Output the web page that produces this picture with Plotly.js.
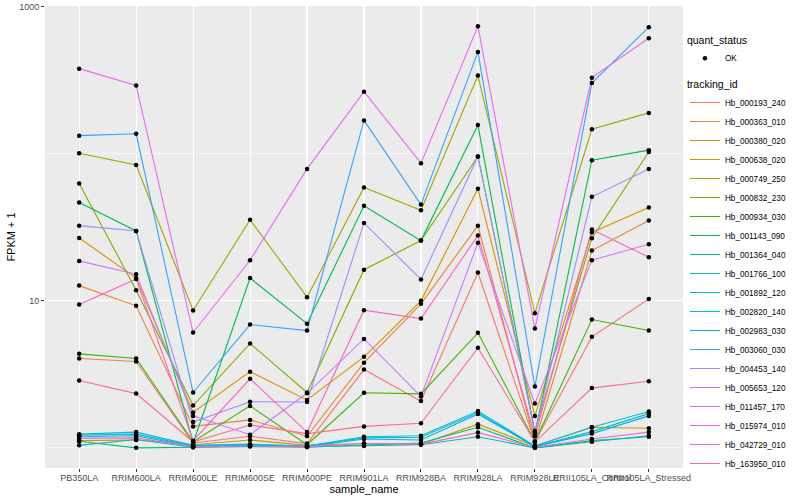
<!DOCTYPE html>
<html>
<head>
<meta charset="utf-8">
<script src="https://cdn.plot.ly/plotly-3.0.1.min.js"></script>
<style>html,body{margin:0;padding:0;background:#fff;}#chart{width:800px;height:500px;}</style>
</head>
<body>
<div id="chart"></div>
<script>
// categories (x)
const categories = ["PB350LA","RRIM600LA","RRIM600LE","RRIM600SE","RRIM600PE","RRIM901LA","RRIM928BA","RRIM928LA","RRIM928LE","RRII105LA_Control","RRII105LA_Stressed"];

// series values: FPKM + 1 per sample
const hb_000193_240 = [4.05, 3.87, 1.08, 1.2, 1.07, 3.41, 2.08, 15.6, 1.1, 5.69, 10.3];
const hb_000363_010 = [12.7, 9.25, 1.4, 1.55, 1.2, 3.80, 9.55, 32.5, 1.1, 22.0, 35.2];
const hb_000380_020 = [26.8, 14.3, 1.74, 3.30, 2.12, 4.16, 10.0, 57.8, 1.65, 29.2, 43.1];
const hb_000638_020 = [1.12, 1.13, 1.05, 1.13, 1.04, 1.07, 1.06, 1.45, 1.03, 1.38, 1.36];
const hb_000749_250 = [101, 84, 8.59, 35.6, 10.6, 59, 41.4, 341, 8.25, 147, 190];
const hb_000832_230 = [62.8, 11.8, 1.94, 5.13, 2.38, 16.3, 25.7, 96, 1.3, 26.7, 103];
const hb_000934_030 = [4.36, 4.06, 1.1, 1.93, 1.05, 2.37, 2.33, 6.06, 1.1, 7.46, 6.28];
const hb_001143_090 = [46.7, 29.9, 1.08, 14.3, 7.0, 44.3, 25.7, 157, 1.25, 90.6, 106];
const hb_001364_040 = [1.11, 1.0, 1.01, 1.02, 1.01, 1.05, 1.08, 1.38, 1.0, 1.10, 1.21];
const hb_001766_100 = [1.04, 1.14, 1.01, 1.03, 1.02, 1.03, 1.05, 1.19, 1.0, 1.12, 1.19];
const hb_001892_120 = [1.22, 1.24, 1.03, 1.05, 1.03, 1.17, 1.18, 1.74, 1.02, 1.29, 1.71];
const hb_002820_140 = [1.24, 1.28, 1.04, 1.06, 1.03, 1.19, 1.21, 1.78, 1.03, 1.38, 1.77];
const hb_002983_030 = [1.19, 1.21, 1.02, 1.04, 1.02, 1.15, 1.13, 1.70, 1.02, 1.25, 1.65];
const hb_003060_030 = [133, 137, 2.38, 6.9, 6.28, 169, 45.2, 494, 2.61, 303, 728];
const hb_004453_140 = [32.5, 29.9, 1.50, 2.06, 2.05, 33.9, 14.0, 96, 1.28, 51, 79];
const hb_005653_120 = [18.7, 15.2, 1.65, 1.23, 2.35, 5.51, 2.24, 24.9, 2.0, 18.9, 24.3];
const hb_011457_170 = [380, 292, 6.09, 18.9, 79, 265, 86.5, 739, 6.48, 330, 612];
const hb_015974_010 = [1.16, 1.17, 1.02, 1.03, 1.02, 1.07, 1.06, 1.27, 1.01, 1.15, 1.28];
const hb_042729_010 = [9.44, 14.1, 1.12, 2.95, 1.28, 8.64, 7.58, 27.8, 1.2, 30.6, 19.8];
const hb_163950_010 = [2.87, 2.34, 1.1, 1.43, 1.25, 1.40, 1.47, 4.79, 1.1, 2.55, 2.84];

// tracking ids (legend labels)
const trackingIds = ["Hb_000193_240","Hb_000363_010","Hb_000380_020","Hb_000638_020","Hb_000749_250","Hb_000832_230","Hb_000934_030","Hb_001143_090","Hb_001364_040","Hb_001766_100","Hb_001892_120","Hb_002820_140","Hb_002983_030","Hb_003060_030","Hb_004453_140","Hb_005653_120","Hb_011457_170","Hb_015974_010","Hb_042729_010","Hb_163950_010"];
const seriesValues = [hb_000193_240,hb_000363_010,hb_000380_020,hb_000638_020,hb_000749_250,hb_000832_230,hb_000934_030,hb_001143_090,hb_001364_040,hb_001766_100,hb_001892_120,hb_002820_140,hb_002983_030,hb_003060_030,hb_004453_140,hb_005653_120,hb_011457_170,hb_015974_010,hb_042729_010,hb_163950_010];

// y tick labels
const yTickVals = [10, 1000];
const yTickText = ["10", "1000"];
const yMinorVals = [1, 100];

// ggplot2 hue palette (20)
const palette = ["#F8766D","#EA8331","#D89000","#C09B00","#A3A500","#7CAE00","#39B600","#00BB4E","#00BF7D","#00C1A3","#00BFC4","#00BAE0","#00B0F6","#35A2FF","#9590FF","#C77CFF","#E76BF3","#FA62DB","#FF62BC","#FF6C91"];

const FONT = "Liberation Sans, Arial, Helvetica, sans-serif";
const traces = [];
trackingIds.forEach((id, i) => {
  traces.push({
    type: "scatter", mode: "lines", x: categories, y: seriesValues[i],
    name: id, legend: "legend2",
    line: {color: palette[i], width: 1.1},
    hoverinfo: "x+y+name"
  });
});
// points (quant_status = OK)
const px = [], py = [];
seriesValues.forEach(vals => vals.forEach((v, j) => { px.push(categories[j]); py.push(v); }));
traces.push({
  type: "scatter", mode: "markers", x: px, y: py, name: "OK", legend: "legend",
  marker: {color: "#000000", size: 4.5}
});

const layout = {
  width: 800, height: 500,
  margin: {l: 45, r: 117, t: 6, b: 32, pad: 0},
  paper_bgcolor: "#FFFFFF", plot_bgcolor: "#EBEBEB",
  font: {family: FONT, color: "#000000"},
  showlegend: true,
  xaxis: {
    type: "category", categoryorder: "array", categoryarray: categories,
    range: [-0.6, 10.6], tickangle: 0,
    showgrid: true, gridcolor: "#FFFFFF", gridwidth: 1.1,
    zeroline: false, showline: false,
    ticks: "outside", ticklen: 3, tickcolor: "#333333", tickwidth: 1,
    ticklabelstandoff: -2,
    tickfont: {family: FONT, size: 9, color: "#4D4D4D"},
    title: {text: "sample_name", font: {family: FONT, size: 11, color: "#000000"}, standoff: 1}
  },
  yaxis: {
    type: "log", range: [-0.137, 3.006],
    tickmode: "array", tickvals: yTickVals, ticktext: yTickText,
    showgrid: true, gridcolor: "#FFFFFF", gridwidth: 1.1,
    minor: {tickmode: "array", tickvals: yMinorVals, showgrid: true, gridcolor: "#FFFFFF", gridwidth: 0.55, ticks: ""},
    zeroline: false, showline: false,
    ticks: "outside", ticklen: 3, tickcolor: "#333333", tickwidth: 1,
    tickfont: {family: FONT, size: 9, color: "#4D4D4D"},
    title: {text: "FPKM + 1", font: {family: FONT, size: 11, color: "#000000"}, standoff: 1}
  },
  legend: {
    x: 1.003, xanchor: "left", y: 0.948, yanchor: "top",
    bgcolor: "rgba(0,0,0,0)", borderwidth: 0,
    title: {text: "quant_status", font: {family: FONT, size: 10.5, color: "#000000"}},
    font: {family: FONT, size: 8.2, color: "#000000"}
  },
  legend2: {
    x: 1.003, xanchor: "left", y: 0.852, yanchor: "top",
    bgcolor: "rgba(0,0,0,0)", borderwidth: 0,
    title: {text: "tracking_id", font: {family: FONT, size: 10.5, color: "#000000"}},
    font: {family: FONT, size: 8.2, color: "#000000"}
  }
};

Plotly.newPlot("chart", traces, layout, {displayModeBar: false, staticPlot: true});
</script>
</body>
</html>
